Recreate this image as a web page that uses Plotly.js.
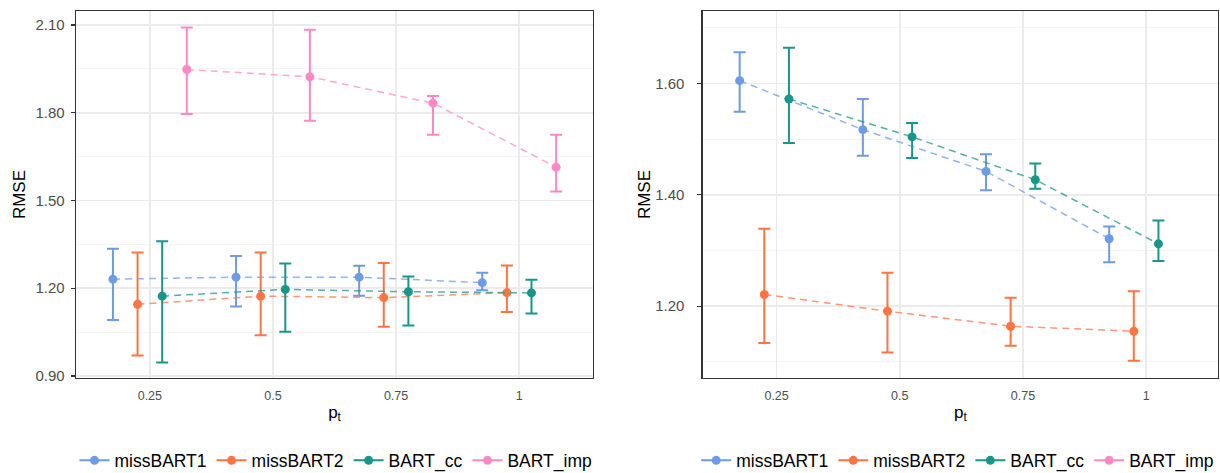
<!DOCTYPE html>
<html>
<head>
<meta charset="utf-8">
<script src="https://cdn.plot.ly/plotly-3.0.1.min.js"></script>
<style>
  html, body { margin: 0; padding: 0; background: #ffffff; }
  #chart { width: 1220px; height: 473px; }
</style>
</head>
<body>
<div id="chart"></div>
<script>
// Proportion p_t at which each method was evaluated
const pt = [0.25, 0.5, 0.75, 1];
const ptLabels = ['0.25', '0.5', '0.75', '1'];

const methods = ['missBART1', 'missBART2', 'BART_cc', 'BART_imp'];

// Left panel: mean RMSE with lower / upper interval bounds
const leftMissBART1 = [1.231, 1.238, 1.238, 1.219];
const leftMissBART1Lo = [1.091, 1.138, 1.174, 1.193];
const leftMissBART1Hi = [1.335, 1.310, 1.277, 1.253];

const leftMissBART2 = [1.145, 1.173, 1.168, 1.185];
const leftMissBART2Lo = [0.970, 1.039, 1.068, 1.119];
const leftMissBART2Hi = [1.322, 1.322, 1.286, 1.278];

const leftBARTcc = [1.173, 1.196, 1.188, 1.184];
const leftBARTccLo = [0.946, 1.051, 1.073, 1.114];
const leftBARTccHi = [1.361, 1.285, 1.240, 1.229];

const leftBARTimp = [1.948, 1.923, 1.833, 1.614];
const leftBARTimpLo = [1.796, 1.773, 1.725, 1.531];
const leftBARTimpHi = [2.092, 2.084, 1.857, 1.725];

// Right panel (no BART_imp results)
const rightMissBART1 = [1.605, 1.517, 1.442, 1.321];
const rightMissBART1Lo = [1.549, 1.470, 1.408, 1.279];
const rightMissBART1Hi = [1.656, 1.572, 1.473, 1.343];

const rightMissBART2 = [1.221, 1.191, 1.164, 1.155];
const rightMissBART2Lo = [1.134, 1.117, 1.129, 1.102];
const rightMissBART2Hi = [1.339, 1.260, 1.215, 1.227];

const rightBARTcc = [1.572, 1.504, 1.427, 1.312];
const rightBARTccLo = [1.493, 1.466, 1.411, 1.281];
const rightBARTccHi = [1.664, 1.529, 1.456, 1.354];

const yTicksLeft = [0.9, 1.2, 1.5, 1.8, 2.1];
const yTicksRight = [1.2, 1.4, 1.6];

// Styling
const colors = ['#6E9BE6', '#FF7443', '#17978A', '#FF88C4'];
const lineColors = ['rgba(110,155,230,0.75)', 'rgba(255,116,67,0.75)', 'rgba(23,151,138,0.75)', 'rgba(255,136,196,0.75)'];
const dodge = [-0.075, -0.025, 0.025, 0.075];
const FONT = 'Liberation Sans, Arial, Helvetica, sans-serif';

const leftSeries = [
  [leftMissBART1, leftMissBART1Lo, leftMissBART1Hi],
  [leftMissBART2, leftMissBART2Lo, leftMissBART2Hi],
  [leftBARTcc, leftBARTccLo, leftBARTccHi],
  [leftBARTimp, leftBARTimpLo, leftBARTimpHi]
];
const rightSeries = [
  [rightMissBART1, rightMissBART1Lo, rightMissBART1Hi],
  [rightMissBART2, rightMissBART2Lo, rightMissBART2Hi],
  [rightBARTcc, rightBARTccLo, rightBARTccHi],
  null
];

function panelTraces(series, xa, ya) {
  const out = [];
  series.forEach((s, i) => {
    if (!s) return;
    const [mean, lo, hi] = s;
    out.push({
      type: 'scatter', mode: 'lines+markers',
      x: pt.map(p => p + dodge[i]), y: mean,
      xaxis: xa, yaxis: ya, showlegend: false, hoverinfo: 'skip',
      line: { color: lineColors[i], width: 1.5, dash: '7px,5px' },
      marker: { color: colors[i], size: 9 },
      error_y: {
        type: 'data', symmetric: false,
        array: hi.map((h, k) => h - mean[k]),
        arrayminus: mean.map((m, k) => m - lo[k]),
        color: colors[i], thickness: 2, width: 6
      }
    });
  });
  return out;
}

// Legend keys: a point with a short solid stroke for each method
function legendTraces(legendId, xa, ya) {
  return methods.map((name, i) => ({
    type: 'scatter', mode: 'lines+markers', name: name,
    x: [null], y: [null], xaxis: xa, yaxis: ya,
    legend: legendId, showlegend: true,
    line: { color: colors[i], width: 2 },
    marker: { color: colors[i], size: 9 }
  }));
}

const data = [].concat(
  panelTraces(leftSeries, 'x', 'y'),
  panelTraces(rightSeries, 'x2', 'y2'),
  legendTraces('legend', 'x', 'y'),
  legendTraces('legend2', 'x2', 'y2')
);

const gridMajor = '#EBEBEB';
const gridMinor = '#F4F4F4';

function xAxis(domain, range, anchor) {
  return {
    domain: domain, range: range, anchor: anchor,
    tickmode: 'array', tickvals: pt, ticktext: ptLabels,
    ticks: '', ticklabelstandoff: 6,
    showgrid: true, gridcolor: gridMajor, gridwidth: 1.6,
    zeroline: false, showline: true, mirror: true, linecolor: '#333333', linewidth: 1.3,
    tickfont: { family: FONT, size: 12.5, color: '#4D4D4D' },
    title: { text: 'p<sub>t</sub>', font: { family: FONT, size: 17, color: '#000000' }, standoff: 3 }
  };
}

function yAxis(domain, range, anchor, ticks, minorStep, labelGap, titleGap) {
  return {
    domain: domain, range: range, anchor: anchor,
    tickmode: 'array', tickvals: ticks, ticktext: ticks.map(v => v.toFixed(2)),
    ticks: 'outside', ticklen: 4, tickwidth: 1.2, tickcolor: '#333333',
    ticklabelstandoff: labelGap,
    showgrid: true, gridcolor: gridMajor, gridwidth: 1.6,
    minor: { dtick: minorStep, tick0: 0, showgrid: true, gridcolor: gridMinor, gridwidth: 1, ticks: '' },
    zeroline: false, showline: true, mirror: true, linecolor: '#333333', linewidth: 1.3,
    tickfont: { family: FONT, size: 15, color: '#4D4D4D' },
    title: { text: 'RMSE', font: { family: FONT, size: 17, color: '#000000' }, standoff: titleGap }
  };
}

// Plot area spans pixel rows 11..378 of the 473px figure
const yDomain = [0.2008, 0.9767];

const legendCommon = {
  orientation: 'h', yanchor: 'middle', y: 0.0265, xanchor: 'center',
  font: { family: FONT, size: 17.5, color: '#000000' },
  bgcolor: 'rgba(0,0,0,0)', itemclick: false, itemdoubleclick: false,
  tracegroupgap: 0
};

const layout = {
  width: 1220, height: 473,
  margin: { l: 0, r: 0, t: 0, b: 0, autoexpand: false },
  paper_bgcolor: '#ffffff', plot_bgcolor: '#ffffff',
  font: { family: FONT },
  showlegend: true,
  xaxis: xAxis([0.0623, 0.4861], [0.1, 1.15], 'y'),
  yaxis: yAxis(yDomain, [0.893, 2.148], 'x', yTicksLeft, 0.15, 3, 5),
  xaxis2: xAxis([0.576, 0.9984], [0.1, 1.146], 'y2'),
  yaxis2: yAxis(yDomain, [1.071, 1.730], 'x2', yTicksRight, 0.1, 10, 0),
  legend: Object.assign({}, legendCommon, { x: 0.2754 }),
  legend2: Object.assign({}, legendCommon, { x: 0.785 })
};

Plotly.newPlot('chart', data, layout, { displayModeBar: false, staticPlot: true });
</script>
</body>
</html>
